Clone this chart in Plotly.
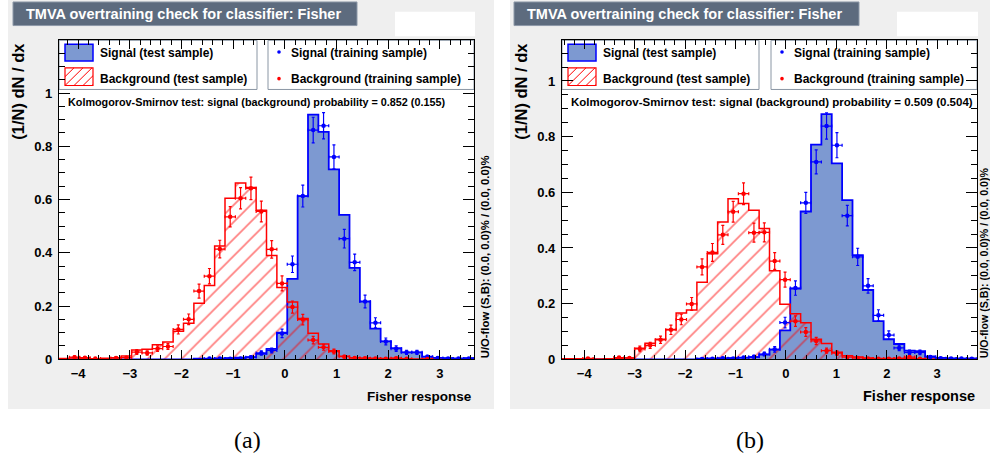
import numpy as np
import plotly.graph_objects as go

W, H = 990, 471

# Fisher response histograms: 40 bins over the response range of each training
N_BINS = 40
x_range_a = (-4.37, 3.66)
x_range_b = (-4.44, 3.79)
y_max_a = 1.198
y_max_b = 1.146

# ---- panel (a) ----
sig_test_a = [0, 0, 0, 0, 0, 0, 0, 0, 0, 0, 0, 0, 0,
              0.002, 0.002, 0.003, 0.004, 0.006, 0.008, 0.02, 0.039, 0.10, 0.302,
              0.613, 0.919, 0.854, 0.713, 0.542, 0.343, 0.217, 0.115, 0.067, 0.042,
              0.026, 0.026, 0.01, 0.005, 0.004, 0.003, 0.004]
sig_train_a = [0, 0, 0, 0, 0, 0, 0, 0, 0, 0, 0, 0, 0, 0,
               0.003, 0.003, 0.002, 0.003, 0.008, 0.024, 0.033, 0.097, 0.357, 0.613,
               0.861, 0.877, 0.76, 0.453, 0.364, 0.217, 0.137, 0.067, 0.04, 0.026,
               0.026, 0.01, 0.005, 0.003, 0.003, 0.003]
sig_train_err_a = [0, 0, 0, 0, 0, 0, 0, 0, 0, 0, 0, 0, 0, 0,
                   0.003, 0.003, 0.002, 0.003, 0.005, 0.008, 0.009, 0.016, 0.031, 0.041,
                   0.048, 0.049, 0.045, 0.035, 0.031, 0.024, 0.019, 0.013, 0.010, 0.008,
                   0.008, 0.005, 0.004, 0.003, 0.003, 0.003]
bkg_test_a = [0.003, 0.005, 0.004, 0.002, 0.004, 0.006, 0.012, 0.035, 0.038, 0.055,
              0.065, 0.105, 0.135, 0.21, 0.277, 0.425, 0.605, 0.662, 0.645, 0.56,
              0.39, 0.27, 0.215, 0.153, 0.098, 0.057, 0.032, 0.011, 0.006, 0.004,
              0.004, 0.003, 0.003, 0.002, 0.001, 0.001, 0, 0, 0, 0]
bkg_train_a = [0, 0.008, 0.006, 0.003, 0, 0.005, 0.006, 0.027, 0.024, 0.04,
               0.048, 0.112, 0.15, 0.256, 0.312, 0.414, 0.535, 0.605, 0.642, 0.555,
               0.413, 0.285, 0.196, 0.149, 0.072, 0.045, 0.029, 0.01, 0.005, 0.004,
               0.003, 0.002, 0.004, 0.002, 0, 0.001, 0, 0, 0, 0]
bkg_train_err_a = [0, 0.005, 0.004, 0.003, 0, 0.004, 0.004, 0.009, 0.008, 0.010,
                   0.011, 0.017, 0.020, 0.026, 0.029, 0.033, 0.038, 0.040, 0.042, 0.039,
                   0.033, 0.028, 0.023, 0.020, 0.014, 0.011, 0.009, 0.005, 0.004, 0.003,
                   0.003, 0.002, 0.003, 0.002, 0, 0.002, 0, 0, 0, 0]

# ---- panel (b) ----
sig_test_b = [0, 0, 0, 0, 0, 0, 0, 0, 0, 0, 0, 0, 0,
              0.002, 0.003, 0.003, 0.004, 0.006, 0.008, 0.017, 0.035, 0.104, 0.254,
              0.531, 0.771, 0.881, 0.704, 0.572, 0.374, 0.249, 0.137, 0.072, 0.055,
              0.031, 0.029, 0.01, 0.005, 0.003, 0.002, 0.003]
sig_train_b = [0, 0, 0, 0, 0, 0, 0, 0, 0, 0, 0, 0, 0,
               0.001, 0.002, 0.004, 0.003, 0.006, 0.009, 0.019, 0.036, 0.132, 0.256,
               0.562, 0.709, 0.838, 0.769, 0.516, 0.368, 0.264, 0.158, 0.087, 0.041,
               0.025, 0.025, 0.008, 0.004, 0.003, 0.003, 0.002]
sig_train_err_b = [0, 0, 0, 0, 0, 0, 0, 0, 0, 0, 0, 0, 0,
                   0.002, 0.002, 0.003, 0.003, 0.004, 0.005, 0.007, 0.010, 0.019, 0.026,
                   0.038, 0.043, 0.047, 0.045, 0.037, 0.031, 0.026, 0.020, 0.015, 0.010,
                   0.008, 0.008, 0.005, 0.003, 0.003, 0.003, 0.002]
bkg_test_b = [0.002, 0.002, 0.002, 0.001, 0.002, 0.003, 0.005, 0.04, 0.058, 0.072,
              0.107, 0.166, 0.177, 0.277, 0.379, 0.493, 0.577, 0.56, 0.535, 0.47,
              0.318, 0.198, 0.164, 0.131, 0.072, 0.057, 0.025, 0.013, 0.008, 0.005,
              0.003, 0.003, 0.003, 0.003, 0.002, 0.001, 0, 0, 0, 0]
bkg_train_b = [0, 0, 0.003, 0, 0, 0.006, 0.005, 0.037, 0.05, 0.07,
               0.106, 0.143, 0.199, 0.332, 0.384, 0.447, 0.53, 0.595, 0.455, 0.456,
               0.353, 0.286, 0.137, 0.098, 0.066, 0.031, 0.022, 0.008, 0.005, 0.003,
               0.002, 0.002, 0.003, 0.008, 0.002, 0, 0, 0, 0, 0]
bkg_train_err_b = [0, 0, 0.003, 0, 0, 0.004, 0.004, 0.010, 0.011, 0.013,
                   0.017, 0.019, 0.023, 0.029, 0.032, 0.034, 0.037, 0.039, 0.034, 0.034,
                   0.030, 0.027, 0.019, 0.016, 0.013, 0.009, 0.008, 0.005, 0.004, 0.003,
                   0.002, 0.002, 0.003, 0.005, 0.002, 0, 0, 0, 0, 0]

ks_a = (0.852, 0.155)
ks_b = (0.509, 0.504)

SIG_FILL = "#7d99d1"
SIG_LINE = "#0000ff"
BKG_LINE = "#ff0000"
PANEL_GREY = "#efefef"
FONT = "Liberation Sans"


def px(x):
    return x / W


def py(y):
    return 1 - y / H


shapes = []
annotations = []


def rect(x0, y0, x1, y1, fill, line_color=None, line_width=0, layer="below"):
    shapes.append(dict(type="rect", xref="paper", yref="paper",
                       x0=px(x0), x1=px(x1), y0=py(y1), y1=py(y0),
                       fillcolor=fill, layer=layer,
                       line=dict(color=line_color or fill, width=line_width)))


def seg(x0, y0, x1, y1, color, width=1, layer="below"):
    shapes.append(dict(type="line", xref="paper", yref="paper",
                       x0=px(x0), x1=px(x1), y0=py(y0), y1=py(y1),
                       layer=layer, line=dict(color=color, width=width)))


def dot(x, y, r, color):
    shapes.append(dict(type="circle", xref="paper", yref="paper",
                       x0=px(x - r), x1=px(x + r), y0=py(y + r), y1=py(y - r),
                       fillcolor=color, layer="below", line=dict(color=color, width=0)))


def text(x, y, s, size, xanchor="left", yanchor="middle", color="black",
         angle=0, family=FONT, weight="bold"):
    annotations.append(dict(x=px(x), y=py(y), xref="paper", yref="paper",
                            text=s, showarrow=False, xanchor=xanchor, yanchor=yanchor,
                            textangle=angle,
                            font=dict(family=family, size=size, color=color, weight=weight)))


def hatched_box(x0, y0, x1, y1, step=9):
    rect(x0, y0, x1, y1, "white", BKG_LINE, 1.2)
    h = y1 - y0
    a = x0 - h
    while a < x1:
        sx, sy = a, y1
        ex, ey = a + h, y0
        if sx < x0:
            sy = y1 - (x0 - sx)
            sx = x0
        if ex > x1:
            ey = y0 + (ex - x1)
            ex = x1
        if ex > sx:
            seg(sx, sy, ex, ey, BKG_LINE, 1)
        a += step


fig = go.Figure()


def add_panel(n, xr, sig_test, bkg_test, sig_train, sig_err, bkg_train, bkg_err):
    xa = "x" if n == 1 else f"x{n}"
    ya = "y" if n == 1 else f"y{n}"
    edges = np.linspace(xr[0], xr[1], N_BINS + 1)
    centers = 0.5 * (edges[:-1] + edges[1:])
    bw = edges[1] - edges[0]

    # signal test sample: filled histogram
    fig.add_trace(go.Bar(x=centers, y=sig_test, width=bw, xaxis=xa, yaxis=ya,
                         marker=dict(color=SIG_FILL, line=dict(width=0)),
                         showlegend=False, hoverinfo="skip"))
    # background test sample: hatched histogram
    fig.add_trace(go.Bar(x=centers, y=bkg_test, width=bw, xaxis=xa, yaxis=ya,
                         marker=dict(color="rgba(0,0,0,0)", line=dict(width=0),
                                     pattern=dict(shape="/", fgcolor=BKG_LINE,
                                                  bgcolor="rgba(0,0,0,0)",
                                                  size=12, solidity=0.14)),
                         showlegend=False, hoverinfo="skip"))
    # step outlines
    for vals, col, lw in ((sig_test, SIG_LINE, 1.8), (bkg_test, BKG_LINE, 1.5)):
        fig.add_trace(go.Scatter(x=edges, y=list(vals) + [vals[-1]], xaxis=xa, yaxis=ya,
                                 mode="lines", line=dict(shape="hv", color=col, width=lw),
                                 showlegend=False, hoverinfo="skip"))
    # training samples: points with errors
    for vals, errs, col in ((sig_train, sig_err, SIG_LINE), (bkg_train, bkg_err, BKG_LINE)):
        yv = [v if v > 0 else None for v in vals]
        fig.add_trace(go.Scatter(x=centers, y=yv, xaxis=xa, yaxis=ya, mode="markers",
                                 marker=dict(size=4.5, color=col),
                                 error_x=dict(type="constant", value=bw / 2, color=col,
                                              thickness=1.2, width=1.5),
                                 error_y=dict(type="data", array=errs, color=col,
                                              thickness=1.2, width=1.5),
                                 showlegend=False, hoverinfo="skip"))


add_panel(1, x_range_a, sig_test_a, bkg_test_a, sig_train_a, sig_train_err_a,
          bkg_train_a, bkg_train_err_a)
add_panel(2, x_range_b, sig_test_b, bkg_test_b, sig_train_b, sig_train_err_b,
          bkg_train_b, bkg_train_err_b)

tickfont = dict(family=FONT, size=13, color="black", weight="bold")
common = dict(showline=True, linecolor="black", linewidth=1.3, mirror="ticks",
              ticks="inside", tickcolor="black", tickwidth=1, showgrid=False,
              zeroline=False, tickfont=tickfont, fixedrange=True)


def xaxis(dom, xr, anchor):
    return dict(common, domain=[px(dom[0]), px(dom[1])], range=list(xr), anchor=anchor,
                dtick=1, tick0=0, ticklen=9, ticklabelstandoff=2,
                minor=dict(ticks="inside", dtick=0.2, ticklen=4.5, tickcolor="black",
                           tickwidth=1, showgrid=False))


def yaxis(ymax, anchor):
    return dict(common, domain=[py(365.5), py(41)], range=[0, ymax], anchor=anchor,
                dtick=0.2, tick0=0, ticklen=11, ticklabelstandoff=3,
                minor=dict(ticks="inside", dtick=0.05, ticklen=5.5, tickcolor="black",
                           tickwidth=1, showgrid=False))


panels = [
    dict(grey=(8, 0, 494, 416), frame=(59, 41, 474, 365.5), title=(13, 357), white=(395, 475),
         leg_split=(257, 268), ks=ks_a, ks_size=10.8, xt_size=13.5, uo_size=11.3, uo_x=485,
         caption="(a)", cap_x=247),
    dict(grey=(510, 0, 990, 416), frame=(562, 41, 977, 365.5), title=(514, 859), white=(897, 978),
         leg_split=(759, 771), ks=ks_b, ks_size=11.5, xt_size=14.5, uo_size=10.6, uo_x=984,
         caption="(b)", cap_x=750),
]

for p in panels:
    gx0, gy0, gx1, gy1 = p["grey"]
    fx0, fy0, fx1, fy1 = p["frame"]
    rect(gx0, gy0, gx1, gy1, PANEL_GREY)
    rect(fx0, fy0, fx1, fy1, "white")
    # title banner
    tx0, tx1 = p["title"]
    rect(tx0, 2, tx1, 26, "#5d6b7e", "#8d99a8", 1)
    text(tx0 + 11, 14.5, "TMVA overtraining check for classifier: Fisher", 14.5,
         color="white")
    wx0, wx1 = p["white"]
    rect(wx0, 12, wx1, 37, "white")
    # legend boxes
    l1, l2 = p["leg_split"]
    rect(fx0, fy0, l1, 91, "white", "#8a96a4", 1)
    rect(l2, fy0, fx1, 91, "white", "#8a96a4", 1)
    rect(fx0 + 6, 45, fx0 + 34, 62, SIG_FILL, SIG_LINE, 1.5)
    hatched_box(fx0 + 6, 69, fx0 + 34, 87)
    text(fx0 + 39, 54, "Signal (test sample)", 12)
    text(fx0 + 39, 80, "Background (test sample)", 12)
    dot(l2 + 11, 53, 1.8, SIG_LINE)
    dot(l2 + 11, 80, 1.8, BKG_LINE)
    text(l2 + 21, 54, "Signal (training sample)", 12)
    text(l2 + 21, 80, "Background (training sample)", 12)
    # Kolmogorov-Smirnov result
    s, b = p["ks"]
    text(fx0 + 7, 103.5,
         f"Kolmogorov-Smirnov test: signal (background) probability = {s:.3f} ({b:.3f})",
         p["ks_size"])
    # axis titles
    text(fx1, 403, "Fisher response", p["xt_size"], xanchor="right")
    text(fx0 - 41, 42, "(1/N) dN / dx", 16.5, xanchor="center", yanchor="top", angle=-90)
    text(p["uo_x"], 367, "U/O-flow (S,B): (0.0, 0.0)% / (0.0, 0.0)%", p["uo_size"],
         xanchor="center", yanchor="bottom", angle=-90)
    # caption
    text(p["cap_x"], 448, p["caption"], 24, xanchor="center", family="Liberation Serif",
         weight="normal")

fig.update_layout(
    width=W, height=H, autosize=False,
    margin=dict(l=0, r=0, t=0, b=0, pad=0),
    paper_bgcolor="white", plot_bgcolor="rgba(0,0,0,0)",
    barmode="overlay", bargap=0,
    showlegend=False,
    xaxis=xaxis((59, 474), x_range_a, "y"),
    yaxis=yaxis(y_max_a, "x"),
    xaxis2=xaxis((562, 977), x_range_b, "y2"),
    yaxis2=yaxis(y_max_b, "x2"),
    shapes=shapes,
    annotations=annotations,
)

fig.write_html("out.html")
